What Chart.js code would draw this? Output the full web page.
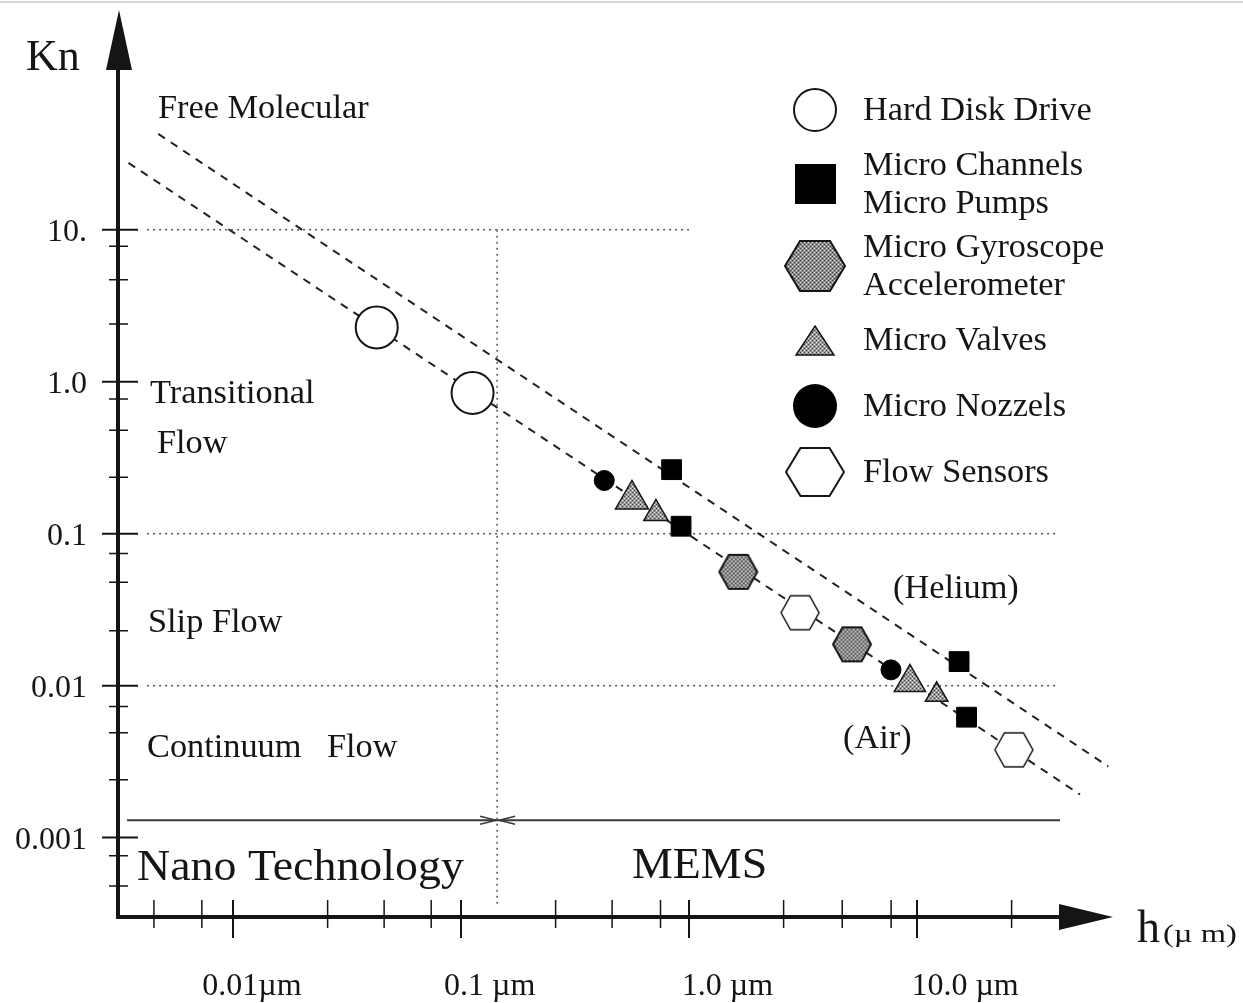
<!DOCTYPE html>
<html>
<head>
<meta charset="utf-8">
<script src="https://cdn.jsdelivr.net/npm/chart.js@4.4.1/dist/chart.umd.min.js"></script>
<style>
  html, body { margin: 0; padding: 0; background: #fff; overflow: hidden; }
  #contenedor { width: 1243px; height: 1003px; position: relative; }
</style>
</head>
<body>
<div id="contenedor"><canvas id="grafica-kn"></canvas></div>
<script>
// valores (h en µm, Kn adimensional)
const hddH = [0.0427, 0.1124];
const hddKn = [2.28, 0.844];
const canalesH = [0.839, 0.923, 15.3, 16.5];
const canalesKn = [0.264, 0.112, 0.0144, 0.0062];
const giroH = [1.645, 5.19];
const giroKn = [0.0561, 0.0187];
const valvulasH = [0.562, 0.716, 9.31, 12.2];
const valvulasKn = [0.168, 0.136, 0.0105, 0.0087];
const toberasH = [0.425, 7.69];
const toberasKn = [0.224, 0.0127];
const sensoresH = [3.07, 26.6];
const sensoresKn = [0.0302, 0.00378];

// rectas Kn ~ 1/h (aire y helio)
const aireH = [0.00348, 51.9];
const aireKn = [27.6, 0.00192];
const helioH = [0.0047, 69.0];
const helioKn = [42.8, 0.00294];

// límites de régimen y zona nano / MEMS
const regimenKn = [10, 0.1, 0.01];
const regimenFinH = [1.0, 41, 41];
const regimenInicioH = 0.0042;
const nanoMemsH = 0.144;
const nanoMemsKn = [10, 0.00036];
const flechaTecKn = 0.0013;
const flechaTecH = [0.00343, 42.4];

// ejes
const xMayores = [0.01, 0.1, 1, 10];
const xEtiquetas = ['0.01µm', '0.1 µm', '1.0 µm', '10.0 µm'];
const xMenores = [0.0045, 0.0073, 0.026, 0.046, 0.074, 0.26, 0.46, 0.75, 2.6, 4.7, 7.7, 26];
const yMayores = [10, 1, 0.1, 0.01, 0.001];
const yEtiquetas = ['10.', '1.0', '0.1', '0.01', '0.001'];
const yMenores = [7.8, 4.7, 2.4, 0.77, 0.48, 0.235, 0.074, 0.048, 0.023, 0.0073, 0.0049, 0.0024, 0.00076, 0.00048];

const tinta = '#151515';
const serif = "'Liberation Serif', 'Times New Roman', serif";

function texto(ctx, str, x, y, size, align = 'left', estirar = 1) {
    ctx.save();
    ctx.font = `${size}px ${serif}`;
    ctx.fillStyle = tinta;
    ctx.textAlign = align;
    ctx.textBaseline = 'alphabetic';
    ctx.translate(x, y);
    ctx.scale(estirar, 1);
    ctx.fillText(str, 0, 0);
    ctx.restore();
}

// trama punteada gris como en el escaneo
function tramaGris(base) {
    const t = document.createElement('canvas');
    t.width = 4; t.height = 4;
    const g = t.getContext('2d');
    g.fillStyle = base; g.fillRect(0, 0, 4, 4);
    g.fillStyle = '#3a3a3a'; g.fillRect(0, 0, 1, 1); g.fillRect(2, 2, 1, 1);
    g.fillStyle = '#e8e8e8'; g.fillRect(2, 0, 1, 1); g.fillRect(0, 2, 1, 1);
    return t;
}

function rutaHex(g, cx, cy, w, h) {
    g.beginPath();
    g.moveTo(cx - w / 2, cy);
    g.lineTo(cx - w / 4, cy - h / 2);
    g.lineTo(cx + w / 4, cy - h / 2);
    g.lineTo(cx + w / 2, cy);
    g.lineTo(cx + w / 4, cy + h / 2);
    g.lineTo(cx - w / 4, cy + h / 2);
    g.closePath();
}

function hexagono(w, h, conTrama, grosor) {
    const c = document.createElement('canvas');
    c.width = w + 4; c.height = h + 4;
    const g = c.getContext('2d');
    rutaHex(g, c.width / 2, c.height / 2, w, h);
    g.fillStyle = conTrama ? g.createPattern(tramaGris('#8a8a8a'), 'repeat') : '#fff';
    g.fill();
    g.lineWidth = grosor; g.strokeStyle = tinta; g.stroke();
    return c;
}

function marcaLeyenda(ctx, tipo, x, y) {
    ctx.save();
    ctx.strokeStyle = tinta;
    ctx.lineWidth = 2;
    if (tipo === 'circuloAbierto') {
        ctx.beginPath(); ctx.arc(x, y, 21, 0, Math.PI * 2);
        ctx.fillStyle = '#fff'; ctx.fill(); ctx.stroke();
    } else if (tipo === 'cuadrado') {
        ctx.fillStyle = '#000'; ctx.fillRect(x - 20, y - 20, 41, 40);
    } else if (tipo === 'hexTrama' || tipo === 'hexBlanco') {
        rutaHex(ctx, x, y, tipo === 'hexTrama' ? 60 : 58, tipo === 'hexTrama' ? 50 : 48);
        ctx.fillStyle = tipo === 'hexTrama' ? ctx.createPattern(tramaGris('#8a8a8a'), 'repeat') : '#fff';
        ctx.fill(); ctx.stroke();
    } else if (tipo === 'triangulo') {
        ctx.beginPath();
        ctx.moveTo(x, y - 14); ctx.lineTo(x + 19, y + 15); ctx.lineTo(x - 19, y + 15); ctx.closePath();
        ctx.fillStyle = ctx.createPattern(tramaGris('#9a9a9a'), 'repeat');
        ctx.fill(); ctx.lineWidth = 1.5; ctx.stroke();
    } else if (tipo === 'circuloNegro') {
        ctx.beginPath(); ctx.arc(x, y, 22, 0, Math.PI * 2);
        ctx.fillStyle = '#000'; ctx.fill();
    }
    ctx.restore();
}

const puntos = (hs, kns) => hs.map((h, i) => ({ x: h, y: kns[i] }));

const lienzo = document.getElementById('grafica-kn');
const tramaTri = lienzo.getContext('2d').createPattern(tramaGris('#9a9a9a'), 'repeat');

const datasets = [
    { label: 'Hard Disk Drive', lineas: ['Hard Disk Drive'], marca: 'circuloAbierto',
      data: puntos(hddH, hddKn), pointStyle: 'circle', pointRadius: 21,
      backgroundColor: '#fff', borderColor: tinta, borderWidth: 2, order: 1 },
    { label: 'Micro Channels / Micro Pumps', lineas: ['Micro Channels', 'Micro Pumps'], marca: 'cuadrado',
      data: puntos(canalesH, canalesKn), pointStyle: 'rect', pointRadius: 14,
      backgroundColor: '#000', borderColor: '#000', borderWidth: 1, order: 1 },
    { label: 'Micro Gyroscope / Accelerometer', lineas: ['Micro Gyroscope', 'Accelerometer'], marca: 'hexTrama',
      data: puntos(giroH, giroKn), pointStyle: hexagono(38, 34, true, 2), pointRadius: 19, order: 1 },
    { label: 'Micro Valves', lineas: ['Micro Valves'], marca: 'triangulo',
      data: puntos(valvulasH, valvulasKn), pointStyle: 'triangle', pointRadius: [19, 14, 18, 13],
      backgroundColor: tramaTri, borderColor: tinta, borderWidth: 1.5, order: 1 },
    { label: 'Micro Nozzels', lineas: ['Micro Nozzels'], marca: 'circuloNegro',
      data: puntos(toberasH, toberasKn), pointStyle: 'circle', pointRadius: 10,
      backgroundColor: '#000', borderColor: '#000', borderWidth: 1, order: 1 },
    { label: 'Flow Sensors', lineas: ['Flow Sensors'], marca: 'hexBlanco',
      data: puntos(sensoresH, sensoresKn), pointStyle: hexagono(38, 34, false, 1.5), pointRadius: 19, order: 1 },
    { label: 'Air', data: puntos(aireH, aireKn), showLine: true, pointRadius: 0,
      borderColor: '#222', borderWidth: 2, borderDash: [8, 7], order: 2 },
    { label: 'Helium', data: puntos(helioH, helioKn), showLine: true, pointRadius: 0,
      borderColor: '#222', borderWidth: 2, borderDash: [8, 7], order: 2 },
    { label: 'Nano / MEMS', data: puntos(flechaTecH, [flechaTecKn, flechaTecKn]), showLine: true, pointRadius: 0,
      borderColor: '#3a3a3a', borderWidth: 2, order: 3 },
    { label: 'límite nano', data: puntos([nanoMemsH, nanoMemsH], nanoMemsKn), showLine: true, pointRadius: 0,
      borderColor: '#555', borderWidth: 1.5, borderDash: [2, 4], order: 3 }
];

regimenKn.forEach((k, i) => {
    datasets.push({ label: 'Kn = ' + k, data: puntos([regimenInicioH, regimenFinH[i]], [k, k]),
        showLine: true, pointRadius: 0, borderColor: '#555', borderWidth: 1.5, borderDash: [2, 4], order: 3 });
});

const ejesPlugin = {
    id: 'ejesKn',
    afterDraw(chart) {
        const { ctx, scales: { x, y } } = chart;
        const x0 = x.left, y0 = y.bottom, xFin = x.right, yFin = y.top;
        ctx.save();
        ctx.strokeStyle = tinta; ctx.fillStyle = tinta;

        // borde gris del escaneo
        ctx.fillStyle = '#d6d6d6'; ctx.fillRect(0, 1, chart.width, 2);
        ctx.fillStyle = tinta;

        ctx.lineWidth = 4;
        ctx.beginPath();
        ctx.moveTo(x0, y0 + 2); ctx.lineTo(x0, yFin + 58);
        ctx.moveTo(x0 - 2, y0); ctx.lineTo(xFin - 52, y0);
        ctx.stroke();

        ctx.beginPath();
        ctx.moveTo(x0 + 1, yFin); ctx.lineTo(x0 - 12, yFin + 60); ctx.lineTo(x0 + 14, yFin + 60); ctx.closePath();
        ctx.moveTo(xFin, y0); ctx.lineTo(xFin - 54, y0 - 13); ctx.lineTo(xFin - 54, y0 + 13); ctx.closePath();
        ctx.fill();

        ctx.lineWidth = 2;
        ctx.beginPath();
        yMayores.forEach(v => { const p = y.getPixelForValue(v); ctx.moveTo(x0 - 16, p); ctx.lineTo(x0 + 20, p); });
        xMayores.forEach(v => { const p = x.getPixelForValue(v); ctx.moveTo(p, y0 - 17); ctx.lineTo(p, y0 + 21); });
        ctx.stroke();
        ctx.lineWidth = 1.5;
        ctx.beginPath();
        yMenores.forEach(v => { const p = y.getPixelForValue(v); ctx.moveTo(x0 - 9, p); ctx.lineTo(x0 + 10, p); });
        xMenores.forEach(v => { const p = x.getPixelForValue(v); ctx.moveTo(p, y0 - 17); ctx.lineTo(p, y0 + 11); });
        ctx.stroke();

        // puntas de flecha nano / MEMS
        const yf = y.getPixelForValue(flechaTecKn);
        const xb = x.getPixelForValue(nanoMemsH);
        ctx.strokeStyle = '#3a3a3a';
        ctx.beginPath();
        ctx.moveTo(xb - 17, yf - 4); ctx.lineTo(xb - 1, yf); ctx.lineTo(xb - 17, yf + 4);
        ctx.moveTo(xb + 18, yf - 4); ctx.lineTo(xb + 2, yf); ctx.lineTo(xb + 18, yf + 4);
        ctx.stroke();
        ctx.restore();

        yMayores.forEach((v, i) => texto(ctx, yEtiquetas[i], 87, y.getPixelForValue(v) + 11, 32, 'right'));
        xMayores.forEach((v, i) => texto(ctx, xEtiquetas[i], x.getPixelForValue(v) + 19 + 9.7 * i, 995, 32, 'center'));

        texto(ctx, 'Kn', 26, 70, 44);
        texto(ctx, 'h', 1137, 942, 46);
        texto(ctx, '(µ m)', 1163, 942, 26, 'left', 1.25);
    }
};

const textosPlugin = {
    id: 'textosKn',
    afterDraw(chart) {
        const { ctx } = chart;
        const e = 1.04;
        texto(ctx, 'Free Molecular', 158, 118, 33, 'left', e);
        texto(ctx, 'Transitional', 150, 403, 33, 'left', e);
        texto(ctx, 'Flow', 157, 453, 33, 'left', e);
        texto(ctx, 'Slip Flow', 148, 632, 33, 'left', e);
        texto(ctx, 'Continuum', 147, 757, 33, 'left', e);
        texto(ctx, 'Flow', 327, 757, 33, 'left', e);
        texto(ctx, 'Nano Technology', 137, 880, 45, 'left', 1.02);
        texto(ctx, 'MEMS', 632, 878, 45, 'left', 1.02);
        texto(ctx, '(Helium)', 893, 598, 33, 'left', e);
        texto(ctx, '(Air)', 843, 748, 33, 'left', e);
    }
};

const leyendaPlugin = {
    id: 'leyendaKn',
    afterDraw(chart) {
        const { ctx } = chart;
        const items = chart.data.datasets.filter(d => d.lineas);
        const alto = n => (n === 1 ? 66 : 82);
        let cy = 110;
        items.forEach((d, i) => {
            marcaLeyenda(ctx, d.marca, 815, cy);
            const n = d.lineas.length;
            d.lineas.forEach((t, j) => texto(ctx, t, 863, cy + 10 + (j - (n - 1) / 2) * 38, 33, 'left', 1.04));
            if (i < items.length - 1) cy += (alto(n) + alto(items[i + 1].lineas.length)) / 2;
        });
    }
};

new Chart(lienzo, {
    type: 'scatter',
    data: { datasets },
    options: {
        responsive: true,
        maintainAspectRatio: false,
        animation: false,
        events: [],
        layout: { autoPadding: false, padding: { left: 118, top: 10, right: 130, bottom: 86 } },
        plugins: { legend: { display: false }, tooltip: { enabled: false } },
        scales: {
            x: { type: 'logarithmic', min: 0.00313, max: 72.4, display: false },
            y: { type: 'logarithmic', min: 0.00031, max: 280, display: false }
        }
    },
    plugins: [ejesPlugin, textosPlugin, leyendaPlugin]
});
</script>
</body>
</html>
